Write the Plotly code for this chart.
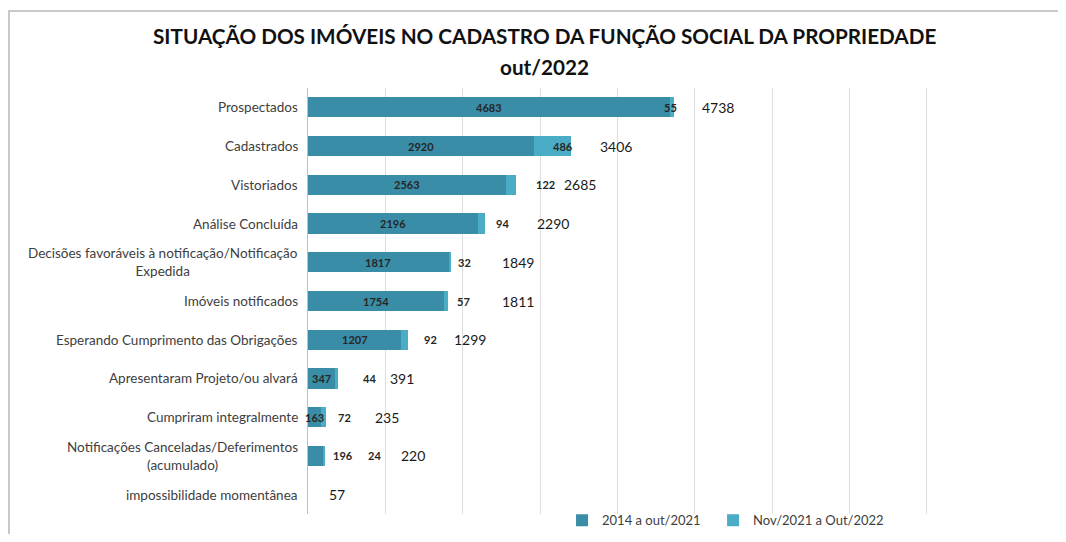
import plotly.graph_objects as go

# ---------------- data ----------------
categories = [
    "Prospectados",
    "Cadastrados",
    "Vistoriados",
    "Análise Concluída",
    "Decisões favoráveis à notificação/Notificação<br>Expedida",
    "Imóveis notificados",
    "Esperando Cumprimento das Obrigações",
    "Apresentaram Projeto/ou alvará",
    "Cumpriram integralmente",
    "Notificações Canceladas/Deferimentos<br>(acumulado)",
    "impossibilidade momentânea",
]
serie_2014_2021 = [4683, 2920, 2563, 2196, 1817, 1754, 1207, 347, 163, 196, None]
serie_2021_2022 = [55, 486, 122, 94, 32, 57, 92, 44, 72, 24, None]
totais = [4738, 3406, 2685, 2290, 1849, 1811, 1299, 391, 235, 220, 57]
series_names = ["2014 a out/2021", "Nov/2021 a Out/2022"]
title_line1 = "SITUAÇÃO DOS IMÓVEIS NO CADASTRO DA FUNÇÃO SOCIAL DA PROPRIEDADE"
title_line2 = "out/2022"

# ---------------- style ----------------
FONT = "Lato, 'Open Sans', sans-serif"
DARK = "#3A8DA6"
LIGHT = "#4BACC6"
TEXT = "#262626"
# pixel nudges of the value labels (as placed in the original)
s1_shift = [0, 0, 0, 0, 0, 0, 0, 0, 0, 27, 0]
s2_shift = [-4, -8, 30, 17, 14, 15, 22, 31, 18, 49, 0]
tot_shift = [44, 45, 64, 68, 67, 70, 62, 64, 61, 88, 25]

fig = go.Figure()
fig.add_trace(go.Bar(
    y=categories, x=serie_2014_2021, orientation="h", name=series_names[0],
    marker=dict(color=DARK, line=dict(width=0)), legend="legend",
))
fig.add_trace(go.Bar(
    y=categories, x=serie_2021_2022, orientation="h", name=series_names[1],
    marker=dict(color=LIGHT, line=dict(width=0)), legend="legend2",
))

annotations = []
for i, cat in enumerate(categories):
    # category label (centered multi-line, right aligned to axis)
    annotations.append(dict(
        x=0, y=cat, xref="paper", yref="y", text=cat, showarrow=False,
        xanchor="right", yanchor="middle", align="center", xshift=-8,
        font=dict(family=FONT, size=13.5, color="#404040"),
    ))
    a = serie_2014_2021[i]
    b = serie_2021_2022[i]
    if a is not None:
        annotations.append(dict(
            x=a / 2, y=cat, xref="x", yref="y", text=f"<b>{a}</b>", showarrow=False,
            xanchor="center", yanchor="middle", xshift=s1_shift[i],
            font=dict(family=FONT, size=11, color=TEXT),
        ))
    if b is not None:
        annotations.append(dict(
            x=a + b, y=cat, xref="x", yref="y", text=f"<b>{b}</b>", showarrow=False,
            xanchor="center", yanchor="middle", xshift=s2_shift[i],
            font=dict(family=FONT, size=11, color=TEXT),
        ))
    t = totais[i]
    annotations.append(dict(
        x=t, y=cat, xref="x", yref="y", text=f"{t}", showarrow=False,
        xanchor="center", yanchor="middle", xshift=tot_shift[i],
        font=dict(family=FONT, size=14, color="#1a1a1a"),
    ))

annotations.append(dict(
    x=0.3398, y=1.122, xref="paper", yref="paper", text=f"<b>{title_line1}</b>",
    showarrow=False, xanchor="center", yanchor="middle",
    font=dict(family=FONT, size=20.7, color="#111111"),
))
annotations.append(dict(
    x=0.3398, y=1.050, xref="paper", yref="paper", text=f"<b>{title_line2}</b>",
    showarrow=False, xanchor="center", yanchor="middle",
    font=dict(family=FONT, size=20.7, color="#111111"),
))

legend_common = dict(orientation="h", y=-0.0145, xanchor="left", yanchor="middle",
                     font=dict(family=FONT, size=13, color="#404040"),
                     bgcolor="rgba(0,0,0,0)", itemwidth=30)

fig.update_layout(
    width=1050, height=526,
    barmode="stack", bargap=0.48,
    plot_bgcolor="white", paper_bgcolor="white",
    margin=dict(l=300, r=54, t=80, b=20, autoexpand=False),
    showlegend=True,
    legend=dict(x=0.365, **legend_common),
    legend2=dict(x=0.582, **legend_common),
    annotations=annotations,
    shapes=[dict(type="rect", xref="paper", yref="paper",
                 x0=(1 - 300) / 696, x1=1.3, y0=-0.3, y1=(506 - 3) / 426,
                 line=dict(color="#c8c8c8", width=2), layer="below")],
)
fig.update_xaxes(range=[0, 9000], dtick=1000, showgrid=True, gridcolor="#dedede",
                 gridwidth=1, zeroline=False, showticklabels=False, showline=False)
fig.update_yaxes(autorange="reversed", showticklabels=False, showline=True,
                 linecolor="#bfbfbf", linewidth=1, showgrid=False, ticks="")

fig.write_html("out.html")
